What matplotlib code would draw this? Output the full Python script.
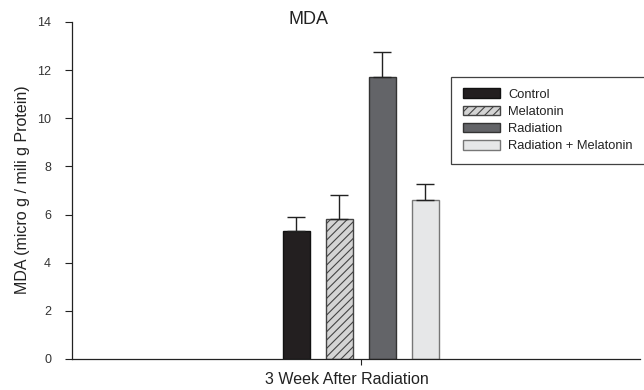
import matplotlib.pyplot as plt

plt.rcParams['font.family'] = ['Liberation Sans', 'DejaVu Sans']
plt.rcParams['hatch.linewidth'] = 0.8

groups = ['Control', 'Melatonin', 'Radiation', 'Radiation + Melatonin']
means = [5.32, 5.82, 11.70, 6.62]
errors = [0.57, 0.99, 1.07, 0.66]
offsets = [-1.5, -0.5, 0.5, 1.5]

faces = ['#231f20', '#d4d4d4', '#636468', '#e6e7e8']
edges = ['#111111', '#444444', '#333333', '#777777']
hatches = [None, '////', None, None]

fig = plt.figure(figsize=(6.44, 3.90), dpi=100)
ax = fig.add_axes([0.1118, 0.0795, 0.882, 0.8641])

for x, m, e, fc, ec, h, lab in zip(offsets, means, errors, faces, edges, hatches, groups):
    ax.bar(x, m, width=0.63, color=fc, edgecolor=ec, linewidth=1.0,
           hatch=h, label=lab, zorder=2)
    ax.errorbar(x, m, yerr=[[0], [e]], fmt='none', ecolor='#222222',
                elinewidth=1.0, capsize=6.5, capthick=1.0, zorder=3)

ax.set_xlim(-6.72, 6.49)
ax.set_ylim(0, 14)
ax.set_yticks(range(0, 15, 2))
ax.set_xticks([0])
ax.set_xticklabels([''])
ax.tick_params(axis='both', direction='out', length=5, width=0.8, labelsize=9,
               colors='#222222', labelcolor='#333333')
ax.tick_params(axis='y', pad=10)
ax.tick_params(axis='x', length=4)

for s in ['top', 'right']:
    ax.spines[s].set_visible(False)
for s in ['left', 'bottom']:
    ax.spines[s].set_linewidth(0.9)
    ax.spines[s].set_color('#222222')

fig.text(23 / 644, 200 / 390, 'MDA (micro g / mili g Protein)', rotation=90,
         ha='center', va='center', fontsize=11.5, color='#222222')
fig.text(347 / 644, 10 / 390, '3 Week After Radiation', ha='center', va='center',
         fontsize=11.5, color='#222222')
fig.text(308 / 644, 370 / 390, 'MDA', ha='center', va='center', fontsize=13, color='#222222')

leg = ax.legend(loc='upper left', bbox_to_anchor=(0.667, 0.838), fontsize=9.3,
                frameon=True, fancybox=False, handlelength=2.92, handleheight=0.78,
                borderpad=0.92, labelspacing=0.37, handletextpad=0.62, borderaxespad=0)
leg.get_frame().set_edgecolor('#111111')
leg.get_frame().set_linewidth(0.9)
for t in leg.get_texts():
    t.set_color('#222222')

plt.savefig('out.png', dpi=100)
